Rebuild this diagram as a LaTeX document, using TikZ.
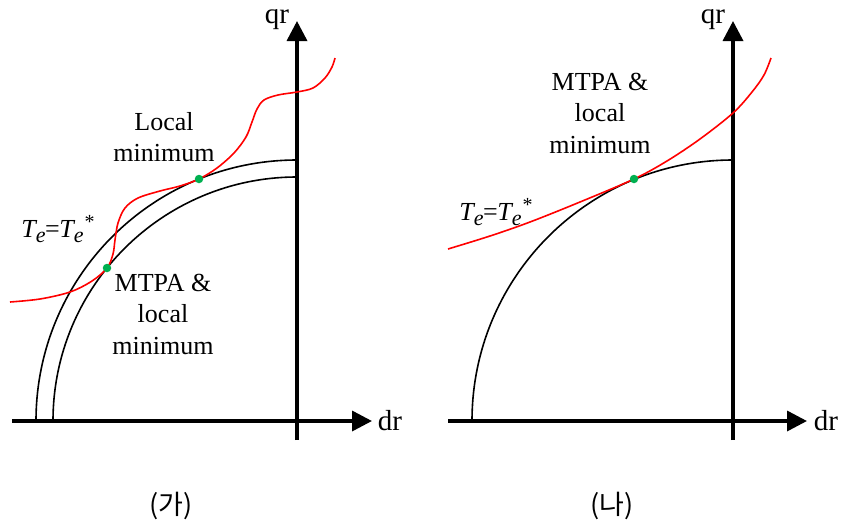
\documentclass[tikz,border=0pt]{standalone}
\usepackage{fontspec}
\setmainfont{Liberation Serif}
\newfontfamily\krfont{Noto Sans CJK KR}
\usetikzlibrary{arrows.meta}
\definecolor{dotgreen}{RGB}{0,176,80}
\newcommand\TeStar{\textit{T}\kern-1.5pt\raisebox{-5pt}{\fontsize{22}{22}\selectfont\textit{e}}\kern-0.5pt=\kern-0.5pt\textit{T}\kern-1.5pt\raisebox{-5pt}{\fontsize{22}{22}\selectfont\textit{e}}\kern1pt\raisebox{9pt}{\fontsize{20}{20}\selectfont *}}
\begin{document}
\begin{tikzpicture}[x=1pt,y=-1pt,
  axis/.style={line width=3.5pt,-{Triangle[length=20pt,width=20pt]}},
  limit/.style={line width=1.6pt},
  torque/.style={line width=1.6pt,red},
  opt/.style={circle,fill=dotgreen,inner sep=0pt,minimum size=8.5pt},
  lbl/.style={font=\rmfamily\fontsize{26}{31.5}\selectfont,align=center,inner sep=0pt},
  axlbl/.style={font=\rmfamily\fontsize{29}{32}\selectfont,inner sep=0pt},
  captxt/.style={font=\krfont\fontsize{27}{30}\selectfont,inner sep=0pt}]
\useasboundingbox (0,0) rectangle (841,523);

% ---------- left panel ----------
\coordinate (xs1) at (12,421);
\coordinate (xe1) at (372,421);
\coordinate (ys1) at (297,440);
\coordinate (ye1) at (297,21);
\draw[axis] (xs1) -- (xe1);
\draw[axis] (ys1) -- (ye1);
\node[axlbl] (qr1) at (277,20) {qr};
\node[axlbl] (dr1) at (390,421) {dr};

\draw[limit] (36,421) arc[start angle=180,end angle=90,radius=261pt];
\draw[limit] (53,421) arc[start angle=180,end angle=90,radius=244pt];

\draw[torque] plot[smooth,tension=0.55] coordinates {
 (10,302) (40,299) (70,292) (92,281) (107,268) (113,254) (115,240)
 (118,223) (125,208) (138,198) (160,191) (180,186) (199,179) (217,168)
 (234,153) (246,137) (252,122) (257,109) (264,100) (278,95) (297,92)
 (313,88) (325,78) (332,67) (335,58)};

\node[opt] (lm) at (199,179) {};
\node[opt] (mt1) at (107,268) {};

\node[lbl] (lmtxt) at (164,137) {Local\\minimum};
\node[lbl] (mt1txt) at (163,314) {MTPA \&\\local\\minimum};
\node[lbl,font=\rmfamily\fontsize{26}{30}\selectfont] (te1) at (58,229) {\TeStar};

\node[captxt] (ga) at (171,506) {(가)};

% ---------- right panel ----------
\coordinate (xs2) at (448,421);
\coordinate (xe2) at (807,421);
\coordinate (ys2) at (733,440);
\coordinate (ye2) at (733,21);
\draw[axis] (xs2) -- (xe2);
\draw[axis] (ys2) -- (ye2);
\node[axlbl] (qr2) at (713,20) {qr};
\node[axlbl] (dr2) at (826,421) {dr};

\draw[limit] (472,421) arc[start angle=180,end angle=90,radius=261pt];

\draw[torque] plot[smooth,tension=0.55] coordinates {
 (448,249) (490,236) (530,222) (580,202) (634,179) (667,161)
 (700,139) (733,113) (752,92) (764,75) (771,58)};

\node[opt] (mt2) at (634,179) {};

\node[lbl] (mt2txt) at (600,113) {MTPA \&\\local\\minimum};
\node[lbl,font=\rmfamily\fontsize{26}{30}\selectfont] (te2) at (496,212) {\TeStar};

\node[captxt] (na) at (612,506) {(나)};
\end{tikzpicture}
\end{document}
